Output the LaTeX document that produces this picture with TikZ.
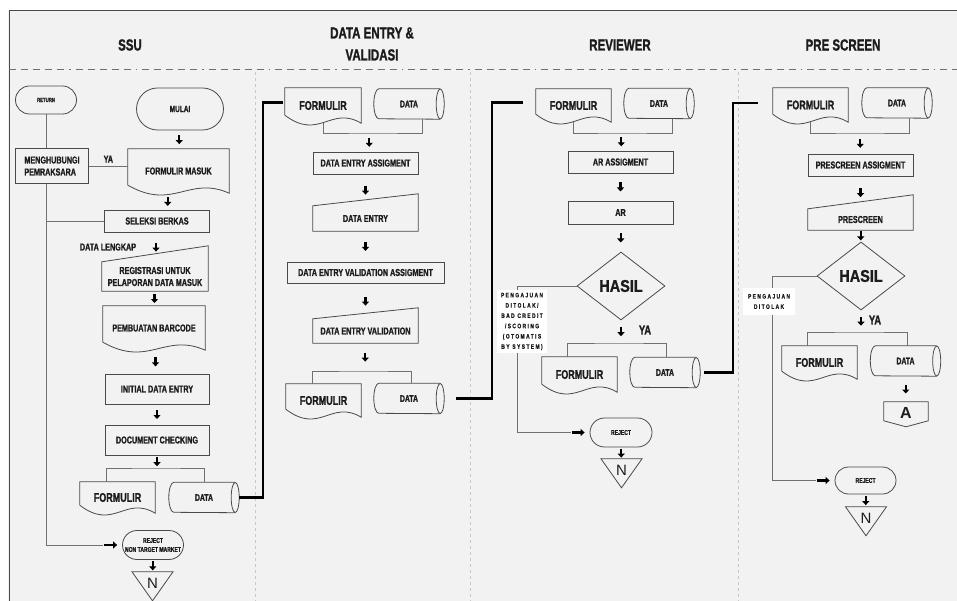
\documentclass[tikz,border=0pt]{standalone}
\usepackage{fontspec}
\setmainfont{Liberation Sans}
\newfontfamily\condfont[FakeStretch=0.72, BoldFeatures={FakeBold=1.2}]{Liberation Sans}
\newfontfamily\semifont[FakeStretch=0.85, BoldFeatures={FakeBold=1.2}]{Liberation Sans}
\newfontfamily\spacefont[FakeStretch=0.75, LetterSpace=22, BoldFeatures={FakeBold=0.8}]{Liberation Sans}
\usetikzlibrary{arrows.meta, positioning, calc, shapes.geometric, shapes.misc}

\definecolor{paper}{HTML}{F2F2F2}
\definecolor{edge}{HTML}{4A4A4A}
\definecolor{wire}{HTML}{707070}
\definecolor{ink}{HTML}{1C1C1C}

\newcommand{\cf}[2]{\condfont\bfseries\fontsize{#1}{#2}\selectfont}

\tikzset{
  outline/.style={draw=edge, line width=0.8pt},
  proc/.style={outline, minimum width=105pt, minimum height=22pt, inner sep=1pt, align=center, font={\cf{10}{12}}},
  term/.style={rounded rectangle, outline, inner sep=1pt, align=center, font={\cf{7}{9}}},
  doc/.style={inner sep=0pt, minimum width=75pt, minimum height=34pt, font={\cf{12.5}{14}}},
  datan/.style={inner sep=0pt, minimum width=70pt, minimum height=30pt, font={\cf{9.5}{11}}},
  inbox/.style={inner sep=0pt, minimum width=105pt, align=center, font={\cf{10}{12}}},
  dec/.style={diamond, outline, minimum width=88pt, minimum height=68pt, inner sep=0pt,
    font={\semifont\bfseries\fontsize{17}{20}\selectfont}},
  note/.style={fill=white, inner sep=0pt, align=center, font={\spacefont\bfseries\fontsize{6.5}{10.3}\selectfont}},
  tri/.style={inner sep=0pt, minimum width=41pt, minimum height=22pt, font=\fontsize{15}{18}\selectfont},
  lbl/.style={inner sep=0pt, font={\cf{10}{12}}},
  head/.style={align=center, font={\cf{16}{22}}},
  wireline/.style={draw=wire, line width=0.9pt},
  link/.style={line width=2.4pt, draw=black},
  fat/.style={line width=2.4pt, draw=black, -{Triangle[length=4pt,width=7pt]}},
  every node/.style={text=ink}
}

\newcommand{\docshape}[1]{\draw[outline] ($(#1.south west)+(0,-8)$) -- (#1.north west) -- (#1.north east) -- (#1.south east)
  .. controls ($(#1.south west)!0.6!(#1.south east)+(0,-18)$) and ($(#1.south west)!0.45!(#1.south east)+(0,18)$) .. ($(#1.south west)+(0,-8)$);}
\newcommand{\inshape}[2]{\draw[outline] (#1.south west) -- (#1.north west) -- ($(#1.north east)+(0,-#2)$) -- (#1.south east) -- cycle;}
\newcommand{\cylshape}[1]{\draw[outline] ($(#1.north east)+(-4,0)$) -- ($(#1.north west)+(5,0)$)
  arc[start angle=90, end angle=270, x radius=5pt, y radius=15pt] -- ($(#1.south east)+(-4,0)$);
  \draw[outline] ($(#1.east)+(-4,0)$) ellipse[x radius=4pt, y radius=15pt];}
\newcommand{\trishape}[1]{\draw[outline] ($(#1.north)+(-20.5,0)$) -- ($(#1.north)+(20.5,0)$) -- ($(#1.north)+(0,29)$) -- cycle;}
\newcommand{\offshape}[1]{\draw[outline] (#1.north west) -- (#1.north east) -- ($(#1.north east)+(0,19)$) -- ($(#1.north)+(0,25)$) -- ($(#1.north west)+(0,19)$) -- cycle;}
\newcommand{\flow}[2]{\draw[fat] ($(#1)!0.5!(#2)+(0,-4.5)$) -- ++(0,9);}

\begin{document}
\begin{tikzpicture}[x=1pt, y=-1pt]
    \useasboundingbox (0,0) rectangle (957,601);
    \fill[paper] (8,10) rectangle (957,601);
    \draw[edge, line width=0.9pt] (957,10) -- (9,10) -- (9,601);
    \draw[wire, line width=1pt, dash pattern=on 7pt off 5pt on 7pt off 5pt on 7pt off 5pt on 7pt off 5pt on 7pt off 5pt on 1.5pt off 5pt] (9,70) -- (957,70);
    \foreach \lx in {255,470,738}
        \draw[black!22, line width=0.6pt, dashed] (\lx,72) -- (\lx,601);

    \node[head] (hssu) at (130,45) {SSU};
    \node[head] (hde) at (372,44) {DATA ENTRY \&\\VALIDASI};
    \node[head] (hrev) at (620,45) {REVIEWER};
    \node[head] (hpre) at (843,45) {PRE SCREEN};

    % SSU
    \node[term, minimum width=63pt, minimum height=28pt, font={\cf{6}{7}}] (ret) at (46,100) {RETURN};
    \node[term, minimum width=89pt, minimum height=42pt, font={\cf{9}{11}}] (mulai) at (180,109) {MULAI};
    \node[proc, minimum width=73pt, minimum height=35pt, align=left] (hub) at (52,166) {MENGHUBUNGI\\PEMRAKSARA};
    \node[doc, minimum width=101pt, minimum height=44pt, font={\cf{10}{12}}] (fmasuk) at (178.5,171) {FORMULIR MASUK};
    \node[proc] (seleksi) at (157,221) {SELEKSI BERKAS};
    \node[inbox, minimum width=106pt, minimum height=29pt] (reg) at (155,276.5) {REGISTRASI UNTUK\\PELAPORAN DATA MASUK};
    \node[doc, minimum width=102pt, minimum height=44pt, font={\cf{10}{12}}] (barcode) at (154,328) {PEMBUATAN BARCODE};
    \node[proc, minimum width=104pt, minimum height=30pt] (initial) at (157,389) {INITIAL DATA ENTRY};
    \node[proc, minimum width=104pt, minimum height=30pt] (doccheck) at (157,440) {DOCUMENT CHECKING};
    \node[doc, minimum height=31pt] (form1) at (117.5,497.5) {FORMULIR};
    \node[datan] (data1) at (204,497.5) {DATA};
    \node[term, minimum width=63pt, minimum height=29pt] (reject1) at (153,545) {REJECT\\NON TARGET MARKET};
    \node[tri] (n1) at (152.5,583) {N};
    \node[lbl] (lengkap) at (108,247) {DATA LENGKAP};
    \coordinate (j1) at (157,468);
    \coordinate (r1in) at ($(reject1.west)+(-19,0)$);

    \docshape{fmasuk} \docshape{barcode} \docshape{form1}
    \inshape{reg}{16} \cylshape{data1} \trishape{n1}

    \draw[wireline] (ret.south) -- (ret.south |- hub.north);
    \draw[wireline] (hub.east) -- (hub.east -| fmasuk.west) node[lbl, midway, above=3pt] (ya1) {YA};
    \draw[wireline] (ret.south |- hub.south) |- (r1in);
    \draw[wireline] (ret.south |- seleksi.west) -- (seleksi.west);
    \draw[wireline] ($(form1.north)+(-11.5,0)$) |- (j1) -| (data1.north);
    \draw[fat] ($(r1in)+(1,0)$) -- ($(reject1.west)+(-5,0)$);
    \flow{mulai.south}{fmasuk.north}
    \flow{fmasuk.south}{seleksi.north}
    \flow{seleksi.south}{reg.north}
    \flow{reg.south}{barcode.north}
    \flow{barcode.south}{initial.north}
    \flow{initial.south}{doccheck.north}
    \flow{doccheck.south}{j1}
    \flow{reject1.south}{n1.north}

    % DATA ENTRY & VALIDASI
    \node[doc, minimum width=76pt, minimum height=35pt] (form2) at (323,105.5) {FORMULIR};
    \node[datan] (data2) at (409,104) {DATA};
    \node[proc] (deassign) at (365.5,163) {DATA ENTRY ASSIGMENT};
    \node[inbox, minimum height=25pt] (deentry) at (365.5,218.5) {DATA ENTRY};
    \node[proc, minimum width=157pt, minimum height=21pt] (devassign) at (365.5,272.5) {DATA ENTRY VALIDATION ASSIGMENT};
    \node[inbox, minimum height=24pt] (deval) at (365.5,331) {DATA ENTRY VALIDATION};
    \node[doc, minimum height=33pt] (form3) at (323.5,400.5) {FORMULIR};
    \node[datan] (data3) at (409,398.5) {DATA};
    \coordinate (j2) at (373,133);
    \coordinate (j3) at (365,371);

    \docshape{form2} \docshape{form3}
    \cylshape{data2} \cylshape{data3}
    \inshape{deentry}{12} \inshape{deval}{11}

    \draw[link] (data1.east) -- ++(24,0) |- ($(form2.west)+(-2,-3)$);
    \draw[wireline] (form2.south) |- (j2) -| ($(data2.south)+(13,0)$);
    \draw[wireline] ($(form3.north)+(-11.5,0)$) |- (j3) -| ($(data3.north)+(2,0)$);
    \flow{j2}{deassign.north}
    \flow{deassign.south}{deentry.north}
    \flow{deentry.south}{devassign.north}
    \flow{devassign.south}{deval.north}
    \flow{deval.south}{j3}

    % REVIEWER
    \node[doc, minimum height=33pt] (form4) at (573.5,105.5) {FORMULIR};
    \node[datan] (data4) at (659,103.5) {DATA};
    \node[proc] (arassign) at (620.5,162) {AR ASSIGMENT};
    \node[proc, minimum height=23pt] (ar) at (620.5,212.5) {AR};
    \node[dec] (hasil1) at (621,286) {HASIL};
    \node[note, minimum width=50pt, minimum height=63pt] (rejnote1) at (522,321.5) {PENGAJUAN\\DITOLAK/\\BAD CREDIT\\/SCORING\\(OTOMATIS\\BY SYSTEM)};
    \node[doc, minimum height=35pt] (form5) at (579.5,374.5) {FORMULIR};
    \node[datan] (data5) at (665,372.5) {DATA};
    \node[term, minimum width=64pt, minimum height=29pt] (reject2) at (621,432.5) {REJECT};
    \node[tri] (n2) at (621.5,470) {N};
    \node[lbl, font={\cf{13}{15}}] (ya2) at (645,330) {YA};
    \coordinate (j4) at (622,133);
    \coordinate (j5) at (621,343);
    \coordinate (r2in) at ($(reject2.west)+(-19,0)$);

    \docshape{form4} \docshape{form5}
    \cylshape{data4} \cylshape{data5} \trishape{n2}

    \draw[link, shorten <=12pt] (data3.east) -- ++(48,0) |- ($(form4.west)+(-13,-3)$);
    \draw[wireline] (form4.south) |- (j4) -| ($(data4.south)+(13,0)$);
    \draw[wireline] ($(form5.north)+(-12.5,0)$) |- (j5) -| ($(data5.north)+(1,0)$);
    \draw[wireline] (hasil1.west) -| ($(rejnote1.north)+(-5,0)$);
    \draw[wireline] ($(rejnote1.south)+(-5,0)$) |- (r2in);
    \draw[fat] ($(r2in)+(1,0)$) -- ($(reject2.west)+(-5,0)$);
    \flow{j4}{arassign.north}
    \flow{arassign.south}{ar.north}
    \flow{ar.south}{hasil1.north}
    \flow{hasil1.south}{j5}
    \flow{reject2.south}{n2.north}

    % PRE SCREEN
    \node[doc, minimum height=34pt] (form6) at (810.5,105) {FORMULIR};
    \node[datan] (data6) at (897,103) {DATA};
    \node[proc] (psassign) at (860.5,165) {PRESCREEN ASSIGMENT};
    \node[inbox, minimum height=21pt] (prescreen) at (860.5,219.5) {PRESCREEN};
    \node[dec] (hasil2) at (861,276) {HASIL};
    \node[note, minimum width=52pt, minimum height=27pt] (rejnote2) at (769,301.5) {PENGAJUAN\\DITOLAK};
    \node[doc, minimum height=33pt] (form7) at (819.5,362.5) {FORMULIR};
    \node[datan] (data7) at (905.5,361) {DATA};
    \node[tri, minimum width=44pt, font={\bfseries\fontsize{16}{18}\selectfont}] (offA) at (906,413) {A};
    \node[term, minimum width=63pt, minimum height=27pt] (reject3) at (865.5,480.5) {REJECT};
    \node[tri] (n3) at (866,518) {N};
    \node[lbl, font={\cf{13}{15}}] (ya3) at (875,320) {YA};
    \coordinate (j6) at (860,133);
    \coordinate (j7) at (861,332);
    \coordinate (r3in) at ($(reject3.west)+(-19,0)$);

    \docshape{form6} \docshape{form7}
    \cylshape{data6} \cylshape{data7}
    \inshape{prescreen}{14} \offshape{offA} \trishape{n3}

    \draw[link, shorten <=4pt] (data5.east) -- ++(33,0) |- ($(form6.west)+(-15,-2)$);
    \draw[wireline] (form6.south) |- (j6) -| ($(data6.south)+(12,0)$);
    \draw[wireline] ($(form7.north)+(-12.5,0)$) |- (j7) -| ($(data7.north)+(1.5,0)$);
    \draw[wireline] (hasil2.west) -| ($(rejnote2.north)+(3,0)$);
    \draw[wireline] ($(rejnote2.south)+(3,0)$) |- (r3in);
    \draw[fat] ($(r3in)+(1,0)$) -- ($(reject3.west)+(-5,0)$);
    \flow{j6}{psassign.north}
    \flow{psassign.south}{prescreen.north}
    \flow{prescreen.south}{hasil2.north}
    \flow{hasil2.south}{j7}
    \flow{data7.south}{offA.north}
    \flow{reject3.south}{n3.north}
\end{tikzpicture}
\end{document}
